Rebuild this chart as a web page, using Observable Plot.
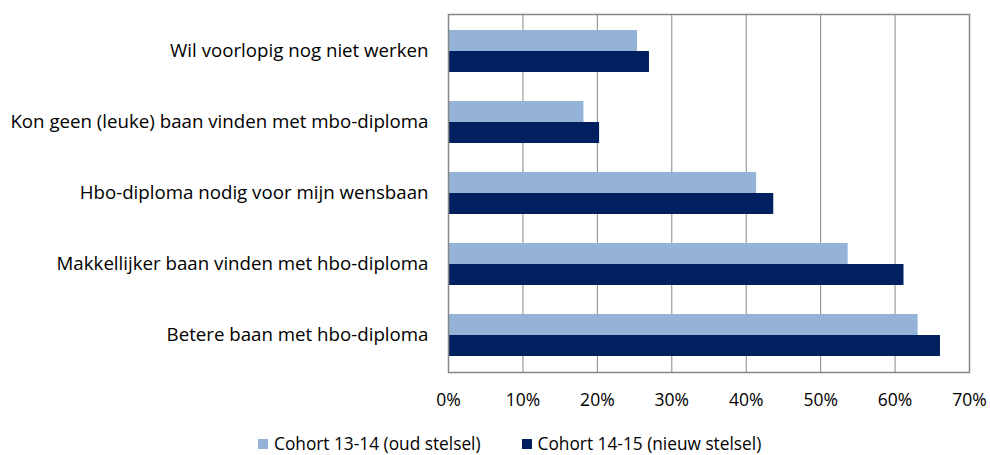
<!DOCTYPE html>
<html><head><meta charset="utf-8">
<script src="https://cdn.jsdelivr.net/npm/d3@7"></script>
<script src="https://cdn.jsdelivr.net/npm/@observablehq/plot@0.6"></script>
<style>
body{margin:0;background:#fff;font-family:"Open Sans",sans-serif;}
#legend{position:absolute;left:258px;top:432px;display:flex;gap:41px;font-size:17.3px;line-height:23px;color:#000;white-space:nowrap;}
#legend span.item{display:flex;align-items:center;gap:6px;}
#legend i{display:inline-block;width:10px;height:10px;}
</style>
</head><body><div id="chart"></div><div id="legend"></div><script>
const categories = [
  "Wil voorlopig nog niet werken",
  "Kon geen (leuke) baan vinden met mbo-diploma",
  "Hbo-diploma nodig voor mijn wensbaan",
  "Makkellijker baan vinden met hbo-diploma",
  "Betere baan met hbo-diploma"
];
const series = ["Cohort 13-14 (oud stelsel)", "Cohort 14-15 (nieuw stelsel)"];
const oud = [0.254, 0.182, 0.414, 0.537, 0.631];
const nieuw = [0.270, 0.203, 0.437, 0.612, 0.661];
const xTicks = [0, 0.1, 0.2, 0.3, 0.4, 0.5, 0.6, 0.7];
const colors = ["#95B3D7", "#002060"];

const dOud = categories.map((c, i) => ({category: c, value: oud[i]}));
const dNieuw = categories.map((c, i) => ({category: c, value: nieuw[i]}));

const chart = Plot.plot({
  width: 990,
  height: 420,
  marginLeft: 448,
  marginRight: 21,
  marginTop: 14,
  marginBottom: 48,
  style: {fontFamily: "'Open Sans', sans-serif", fontSize: "17px", color: "#000", background: "#fff"},
  x: {domain: [0, 0.7]},
  y: {domain: categories, paddingInner: 0.413, paddingOuter: 0.2065},
  marks: [
    Plot.gridX(xTicks, {stroke: "#878787", strokeOpacity: 1, strokeWidth: 1}),
    Plot.barX(dOud, {x: "value", y: "category", fill: colors[0], insetBottom: 21}),
    Plot.barX(dNieuw, {x: "value", y: "category", fill: colors[1], insetTop: 21}),
    Plot.frame({stroke: "#878787", strokeWidth: 1.5}),
    Plot.axisX({ticks: xTicks, tickFormat: d3.format(".0%"), tickSize: 0, tickPadding: 21, fontSize: 17.5, label: null}),
    Plot.axisY({tickSize: 0, tickPadding: 20, fontSize: 18.7, label: null})
  ]
});
document.getElementById("chart").appendChild(chart);

const legend = document.getElementById("legend");
series.forEach((s, i) => {
  const item = document.createElement("span");
  item.className = "item";
  const sw = document.createElement("i");
  sw.style.background = colors[i];
  item.appendChild(sw);
  item.appendChild(document.createTextNode(s));
  legend.appendChild(item);
});
</script></body></html>
